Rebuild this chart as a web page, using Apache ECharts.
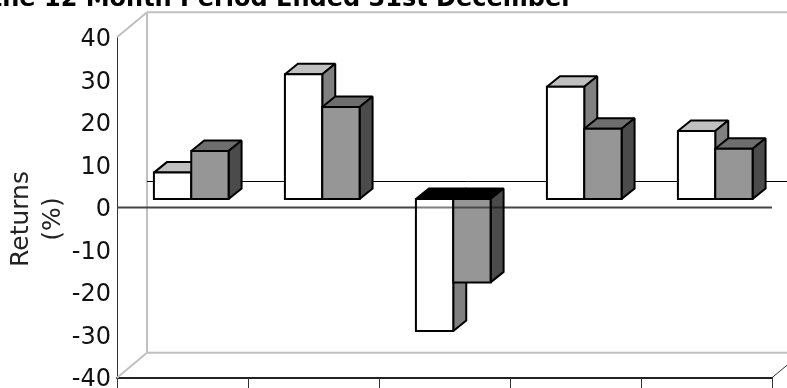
<!DOCTYPE html>
<html>
<head>
<meta charset="utf-8">
<style>html,body{margin:0;padding:0;background:#fff}#chart{width:787px;height:388px}</style>
<script src="https://cdn.jsdelivr.net/npm/echarts@6/dist/echarts.min.js"></script>
</head>
<body>
<div id="chart"></div>
<script>
// Calendar years and annual returns (%) for the fund and its benchmark
var years = ['2006', '2007', '2008', '2009', '2010'];
var fundReturns = [6.2, 29.3, -31, 26.4, 16];
var benchmarkReturns = [11.3, 21.6, -19.6, 16.5, 11.8];
var valueTicks = [-40, 40, 10];

// Pseudo-3D projection, in pixels
var WALL_DX = 30, WALL_DY = -25;
var PLANE_DX = 8.75, PLANE_DY = -8.5;
var DEPTH_DX = 13, DEPTH_DY = -10.5;
var BAR_SHARE = 0.285;
var FONT = 'DejaVu Sans, Verdana, sans-serif';

function seg(x1, y1, x2, y2, stroke, width) {
  return { type: 'line', shape: { x1: x1, y1: y1, x2: x2, y2: y2 },
           style: { stroke: stroke, lineWidth: width, fill: null } };
}
function poly(points, fill) {
  return { type: 'polygon', shape: { points: points },
           style: { fill: fill, stroke: '#000', lineWidth: 2, lineJoin: 'miter', miterLimit: 2 } };
}

// Back wall, floor, side edge and both zero lines
function renderFrame(params, api) {
  var lo = api.coord([0, valueTicks[0]]);
  var hi = api.coord([0, valueTicks[1]]);
  var zero = api.coord([0, 0]);
  var band = api.size([1, 0])[0];
  var left = lo[0] - band / 2;
  var right = left + band * years.length;
  var wall = '#c0c0c0';
  return { type: 'group', children: [
    seg(left + WALL_DX, hi[1] + WALL_DY, left + WALL_DX, lo[1] + WALL_DY, wall, 2),
    seg(left + WALL_DX, hi[1] + WALL_DY, right + WALL_DX, hi[1] + WALL_DY, wall, 2),
    seg(left + WALL_DX, lo[1] + WALL_DY, right + WALL_DX, lo[1] + WALL_DY, wall, 2),
    seg(left, hi[1], left + WALL_DX, hi[1] + WALL_DY, wall, 2),
    seg(left, lo[1], left + WALL_DX, lo[1] + WALL_DY, wall, 2),
    seg(right, lo[1], right + WALL_DX, lo[1] + WALL_DY, '#333', 1),
    seg(left + WALL_DX, zero[1] + WALL_DY - 1, right + WALL_DX, zero[1] + WALL_DY - 1, '#000', 1),
    seg(left, zero[1], right, zero[1], '#444', 2)
  ] };
}

// One box: front face plus top and side faces
function boxRenderer(slot, colors) {
  return function (params, api) {
    var base = api.coord([api.value(0), 0]);
    var tip = api.coord([api.value(0), api.value(1)]);
    var w = api.size([1, 0])[0] * BAR_SHARE;
    var x0 = base[0] + PLANE_DX + (slot === 0 ? -w : 0);
    var x1 = x0 + w;
    var top = Math.min(base[1], tip[1]) + PLANE_DY;
    var bot = Math.max(base[1], tip[1]) + PLANE_DY;
    var topFill = api.value(1) < 0 ? '#000' : colors.top;
    return { type: 'group', children: [
      poly([[x0, top], [x0 + DEPTH_DX, top + DEPTH_DY], [x1 + DEPTH_DX, top + DEPTH_DY], [x1, top]], topFill),
      poly([[x1, top], [x1 + DEPTH_DX, top + DEPTH_DY], [x1 + DEPTH_DX, bot + DEPTH_DY], [x1, bot]], colors.side),
      poly([[x0, top], [x1, top], [x1, bot], [x0, bot]], colors.front)
    ] };
  };
}

// Zero line showing through the box that hangs below it
function renderVeil(params, api) {
  if (api.value(1) >= 0) { return null; }
  var base = api.coord([api.value(0), 0]);
  var w = api.size([1, 0])[0] * BAR_SHARE;
  return seg(base[0] + PLANE_DX - w, base[1], base[0] + PLANE_DX + w + DEPTH_DX, base[1], 'rgba(0,0,0,0.5)', 2);
}

var chart = echarts.init(document.getElementById('chart'), null, { renderer: 'canvas' });
chart.setOption({
  animation: false,
  backgroundColor: '#fff',
  title: {
    text: 'Returns for the 12 Month Period Ended 31st December',
    right: 209, top: -17,
    textStyle: { fontFamily: FONT, fontSize: 24, fontWeight: 'bold', color: '#000' }
  },
  grid: { left: 117, right: 15, top: 37.3, bottom: 10.3, containLabel: false, outerBoundsMode: 'none' },
  xAxis: {
    type: 'category', data: years,
    axisLine: { onZero: false, lineStyle: { color: '#222', width: 2 } },
    axisTick: { show: true, length: 12, alignWithLabel: false, lineStyle: { color: '#333', width: 1 } },
    axisLabel: { margin: 9.6, fontFamily: FONT, fontSize: 24, color: '#000', verticalAlign: 'top' }
  },
  yAxis: {
    type: 'value', min: valueTicks[0], max: valueTicks[1], interval: valueTicks[2],
    axisLine: { show: true, lineStyle: { color: '#333', width: 1 } },
    axisTick: { show: false },
    splitLine: { show: false },
    axisLabel: {
      margin: 6, showMinLabel: true, showMaxLabel: true,
      formatter: '{v|{value}}',
      rich: { v: { fontFamily: FONT, fontSize: 24, color: '#111', padding: [5, 0, 0, 0] } }
    }
  },
  graphic: [{
    type: 'text', x: 37, y: 219, rotation: Math.PI / 2,
    style: { text: 'Returns\n(%)', fontFamily: FONT, fontSize: 25, fill: '#222',
             align: 'center', verticalAlign: 'middle', lineHeight: 32 }
  }],
  series: [
    { type: 'custom', z: 1, silent: true, renderItem: renderFrame, data: [[0, 0]], encode: { x: 0, y: 1 } },
    { type: 'custom', z: 2, silent: true, data: years.map(function (y, i) { return [i, fundReturns[i]]; }),
      encode: { x: 0, y: 1 }, renderItem: boxRenderer(0, { front: '#ffffff', top: '#c0c0c0', side: '#808080' }) },
    { type: 'custom', z: 3, silent: true, data: years.map(function (y, i) { return [i, benchmarkReturns[i]]; }),
      encode: { x: 0, y: 1 }, renderItem: boxRenderer(1, { front: '#969696', top: '#6e6e6e', side: '#4b4b4b' }) },
    { type: 'custom', z: 4, silent: true, data: years.map(function (y, i) { return [i, fundReturns[i]]; }),
      encode: { x: 0, y: 1 }, renderItem: renderVeil }
  ]
});
</script>
</body>
</html>
